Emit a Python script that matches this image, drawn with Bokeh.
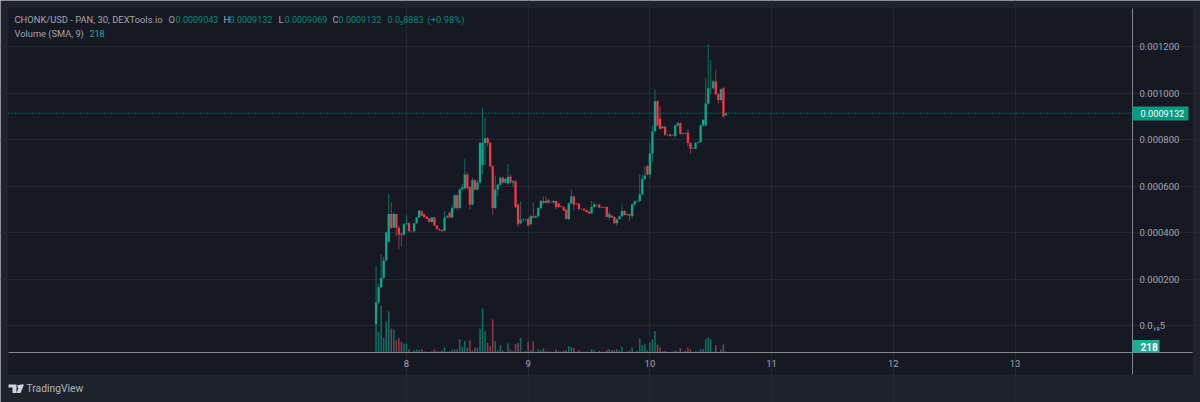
from bokeh.embed import file_html
from bokeh.resources import INLINE
from bokeh.plotting import figure
from bokeh.models import (ColumnDataSource, Range1d, FixedTicker, Label, BoxAnnotation, PolyAnnotation)
import numpy as np

# prices in units of 1e-4 USD, one candle per 30 minutes, starting day 7.75
opens = [0.05,1.0,1.65,2.05,2.8,3.6,4.8,4.2,4.8,4.2,3.95,3.9,4.35,4.4,4.05,4.05,4.4,4.65,4.9,4.78,
         4.68,4.6,4.45,4.65,4.3,4.15,4.1,4.07,4.65,4.85,4.65,5.05,5.6,5.05,5.85,5.9,6.5,5.95,5.2,6.25,
         5.85,6.15,6.9,7.85,8.05,7.85,6.85,5.05,5.85,6.05,6.35,6.15,6.1,6.4,6.15,6.2,5.2,4.4,4.55,4.57,
         4.58,4.35,4.7,4.65,4.7,5.05,5.35,5.28,5.4,5.3,5.28,5.35,5.25,5.13,5.1,4.98,4.58,5.25,5.55,5.25,
         5.25,5.0,5.02,4.97,4.9,4.82,5.1,5.15,5.2,5.08,5.1,5.1,4.65,4.72,4.67,4.4,4.57,4.7,4.93,4.75,
         4.78,4.72,5.2,5.33,5.35,5.65,6.3,6.85,6.5,7.4,8.35,9.65,8.9,8.5,8.55,8.2,8.22,8.18,8.15,8.6,
         8.7,8.25,8.28,8.3,7.85,7.62,7.6,7.85,7.88,8.6,8.6,9.55,10.2,10.2,10.5,9.95,9.7,10.2,9.043]
highs = [2.58,1.8,3.05,2.95,4.05,5.65,5.3,4.85,4.8,4.3,4.0,4.42,4.75,4.45,4.08,4.42,4.68,4.97,4.95,4.8,
         4.7,4.62,4.67,4.67,4.32,4.17,4.12,4.93,4.75,4.9,5.2,5.65,5.65,5.9,6.1,7.15,6.6,6.0,6.35,6.3,
         6.25,7.9,9.35,8.95,8.1,7.9,6.9,6.45,6.1,6.4,6.4,6.35,6.95,6.5,6.25,6.25,5.25,5.35,4.6,4.6,
         4.65,4.75,5.3,4.72,5.1,5.4,5.55,5.55,5.45,5.35,5.4,5.38,5.28,5.15,5.12,5.0,5.3,5.85,5.6,5.27,
         5.27,5.05,5.05,5.0,4.93,5.35,5.3,5.22,5.22,5.13,5.13,5.12,4.9,4.75,4.7,4.6,4.75,5.2,4.97,4.82,
         4.82,5.25,5.38,5.38,6.5,6.5,6.85,6.9,7.85,8.6,10.15,9.7,9.4,8.6,8.6,8.25,8.25,8.22,8.65,8.75,
         8.75,8.3,8.32,8.45,7.9,7.68,7.9,7.92,8.65,8.85,10.65,12.1,11.4,10.55,11.0,10.0,10.2,10.25,9.132]
lows = [0.05,0.9,1.6,2.0,2.75,3.55,4.15,4.2,3.85,3.3,3.4,3.85,4.3,4.0,4.02,4.0,4.38,4.62,4.7,4.64,
        4.56,4.43,4.43,4.28,4.13,4.08,4.02,4.05,4.63,4.62,4.62,5.0,4.95,5.0,5.8,5.85,5.85,5.0,5.15,5.8,
        5.8,6.1,6.5,6.9,7.7,6.8,4.75,5.0,5.55,6.0,6.1,6.1,6.05,6.1,5.95,5.05,4.25,4.35,4.45,4.45,
        4.25,4.3,4.6,4.6,4.65,5.0,5.2,5.25,5.25,5.27,5.25,5.0,5.05,5.08,4.92,4.55,4.5,5.2,4.95,5.18,
        4.97,4.97,4.92,4.86,4.78,4.8,5.05,5.1,5.05,5.05,5.05,4.65,4.55,4.62,4.35,4.28,4.55,4.65,4.72,4.72,
        4.5,4.6,5.15,5.3,5.3,5.6,6.25,6.45,6.3,7.05,8.3,8.55,8.4,8.45,8.15,8.15,8.12,8.15,8.05,8.55,
        8.2,8.2,8.22,7.7,7.4,7.58,7.58,7.82,7.85,8.55,8.55,9.5,9.95,10.15,9.9,9.55,9.65,8.9,9.043]
closes = [1.0,1.65,2.05,2.8,4.0,4.8,4.2,4.8,4.2,3.9,3.9,4.35,4.4,4.05,4.05,4.4,4.65,4.95,4.72,4.66,
          4.58,4.45,4.65,4.3,4.15,4.1,4.05,4.65,4.7,4.65,5.05,5.6,5.05,5.85,5.95,6.5,5.9,5.2,6.25,5.85,
          6.15,7.85,7.85,8.05,7.85,6.85,5.05,5.85,6.05,6.35,6.15,6.3,6.4,6.15,6.2,5.1,4.35,4.55,4.57,4.58,
          4.3,4.7,4.65,4.7,5.05,5.35,5.28,5.35,5.28,5.3,5.35,5.1,5.1,5.1,4.95,4.58,5.25,5.55,5.2,5.22,
          5.0,5.0,4.95,4.88,4.82,5.1,5.2,5.15,5.07,5.1,5.08,4.67,4.8,4.65,4.4,4.57,4.7,4.93,4.75,4.78,
          4.72,5.2,5.33,5.35,5.65,6.3,6.45,6.5,7.4,8.35,9.65,8.6,8.45,8.55,8.2,8.2,8.15,8.19,8.6,8.7,
          8.25,8.28,8.27,7.85,7.6,7.63,7.85,7.88,8.6,8.85,9.55,10.2,10.22,10.5,9.95,9.7,10.15,9.0,9.132]
volumes = [5600,4140,9400,2940,6200,8200,4800,4600,2460,2940,2140,1800,1800,660,140,460,600,460,660,200,
           200,140,260,600,260,200,340,1000,140,260,600,600,600,2660,1140,2340,1000,2460,460,940,
           1000,4800,8800,4260,1940,1260,6600,2260,460,1460,340,140,1800,600,260,1660,1940,2860,140,300,
           2140,460,2260,140,660,460,800,260,260,200,140,600,260,200,340,460,1260,1140,940,140,
           460,200,140,260,140,660,400,140,340,200,140,460,660,460,460,660,400,1140,140,260,
           460,1000,140,340,2800,1460,1660,460,1940,2600,4260,1600,1000,260,340,200,140,200,460,260,
           860,200,340,1000,600,140,260,200,660,660,2660,3000,2660,200,1460,140,660,1660,218]
first_day = 7.75
bars_per_day = 48
day_ticks = [8, 9, 10, 11, 12, 13]
price_ticks = [0.0, 2.0, 4.0, 6.0, 8.0, 10.0, 12.0]
price_labels = ["0.0\u2081\u20895", "0.000200", "0.000400", "0.000600", "0.000800", "0.001000", "0.001200"]
last_price = closes[-1]
last_price_text = "0.0009132"
last_volume_text = "218"

OUTER = "#1e222d"
INNER = "#161824"
EDGE = "#292d38"
GRID = "#24272f"
RULE = "#83858c"
UP = "#0ba68c"
DOWN = "#f23645"
UP_DIM = "#0f6f61"
DOWN_DIM = "#8c3a49"
TXT = "#a3a6af"
VAL = "#0a8a76"
TAG = "#089981"
FONT = "Roboto"
FS = "9.5px"
FS_NAME = "9.4px"
FS_VAL = "9px"

W, H = 1200, 402
PX_DAY = 121.7     # page pixels per day
PX_UNIT = 23.25    # page pixels per 1e-4 USD
PX_VOL = 1 / 200   # page pixels per unit of volume


def dx(x):
    return 8 + (x - 406) / PX_DAY


def dy(y):
    return (325 - y) / PX_UNIT


t = first_day + np.arange(len(opens)) / bars_per_day
o, h, l, c = map(np.array, (opens, highs, lows, closes))
up = c >= o
src = ColumnDataSource(dict(
    t=t, o=o, h=h, l=l, c=c, v=np.array(volumes),
    body=[UP if u else DOWN for u in up],
    dim=[UP_DIM if u else DOWN_DIM for u in up],
))

p = figure(width=W, height=H, output_backend="svg", toolbar_location=None,
           x_range=Range1d(dx(0), dx(W)), y_range=Range1d(dy(H), dy(0)),
           x_axis_location="below", y_axis_location="right",
           min_border_left=0, min_border_top=0, min_border_right=0, min_border_bottom=0,
           background_fill_color=OUTER, border_fill_color=OUTER, outline_line_color=None)
p.extra_y_ranges = {"vol": Range1d((352 - H) / PX_VOL, 352 / PX_VOL)}

p.add_layout(BoxAnnotation(left=dx(7.5), right=dx(1192.5), top=dy(7.5), bottom=dy(374.5),
                           fill_color=INNER, fill_alpha=1, line_color=EDGE, line_width=1, level="image"))

p.xaxis.ticker = FixedTicker(ticks=day_ticks)
p.yaxis.ticker = FixedTicker(ticks=price_ticks)
p.yaxis.major_label_overrides = dict(zip(price_ticks, price_labels))
p.xaxis.fixed_location = dy(352)
p.yaxis.fixed_location = dx(1132)
p.xaxis.bounds = (dx(8), dx(1192))
p.yaxis.bounds = (dy(374), dy(8))
for ax in (p.xaxis[0], p.yaxis[0]):
    ax.axis_line_color = RULE
    ax.major_tick_line_color = None
    ax.minor_tick_line_color = None
    ax.major_tick_out = 0
    ax.major_tick_in = 0
    ax.major_label_text_color = TXT
    ax.major_label_text_font = FONT
    ax.major_label_text_font_size = FS
    ax.major_label_standoff = 7
p.xgrid.grid_line_color = GRID
p.ygrid.grid_line_color = GRID
p.xgrid.bounds = (dy(352), dy(8))
p.ygrid.bounds = (dx(8), dx(1132))

p.vbar(x="t", top="v", bottom=0, width=0.62 / bars_per_day, source=src, fill_color="dim", line_color=None,
       y_range_name="vol")
p.segment(x0="t", y0="l", x1="t", y1="h", source=src, line_color="dim", line_width=1)
p.vbar(x="t", top="o", bottom="c", width=0.92 / bars_per_day, source=src, fill_color="body", line_color=None)

# dotted last-price line, from the panel edge to the price scale
dots = p.segment(x0=[dx(8)], y0=[last_price], x1=[dx(1132)], y1=[last_price], line_color=TAG, line_width=1)
dots.glyph.line_dash = [1, 2]


def box(left, right, top, bottom, color):
    p.add_layout(BoxAnnotation(left=dx(left), right=dx(right), top=dy(top), bottom=dy(bottom),
                               fill_color=color, fill_alpha=1, line_color=None, level="annotation"))


def text(x, y, s, color=TXT, size=FS, style="normal"):
    # x, y are page pixels
    p.add_layout(Label(x=x, y=H - y, x_units="screen", y_units="screen", text=s, text_color=color,
                       text_font=FONT, text_font_size=size, text_font_style=style, text_baseline="middle",
                       text_align="left", level="overlay"))


# tags on the price scale
box(1132, 1188, 106, 120, TAG)
box(1132, 1159, 339.5, 352, "#22ab94")
text(1140, 113, last_price_text, "#ffffff", "9.2px")
text(1140, 346, last_volume_text, "#ffffff", "10px", "bold")

# legend lines
text(14, 19, "CHONK/USD - PAN, 30, DEXTools.io", TXT, FS_NAME)
for x, s, col, fs in [(168, "O", TXT, FS_NAME), (175, "0.0009043", VAL, FS_VAL), (223, "H", TXT, FS_NAME),
                      (229, "0.0009132", VAL, FS_VAL), (278, "L", TXT, FS_NAME), (284, "0.0009069", VAL, FS_VAL),
                      (332, "C", TXT, FS_NAME), (338, "0.0009132", VAL, FS_VAL),
                      (387, "0.0\u20858883", VAL, FS_VAL), (427, "(+0.98%)", VAL, FS_NAME)]:
    text(x, 19, s, col, fs)
text(14, 33, "Volume (SMA, 9)", TXT, "9.3px")
text(89, 33, last_volume_text, "#22ab94", FS_VAL)

# TradingView mark
logo = [([8, 16, 16, 12, 12, 8], [384, 384, 392.5, 392.5, 387, 387]),
        ([17, 20, 20, 17], [384.5, 384.5, 387.5, 387.5]),
        ([19.5, 23.5, 20, 16], [384, 384, 392.5, 392.5])]
for xs, ys in logo:
    p.add_layout(PolyAnnotation(xs=[dx(v) for v in xs], ys=[dy(v) for v in ys],
                                fill_color="#d1d4dc", fill_alpha=1, line_color=None, level="overlay"))
text(26, 388, "TradingView", "#b2b5be", "10.3px")

open("out.html", "w").write(file_html(p, INLINE))
